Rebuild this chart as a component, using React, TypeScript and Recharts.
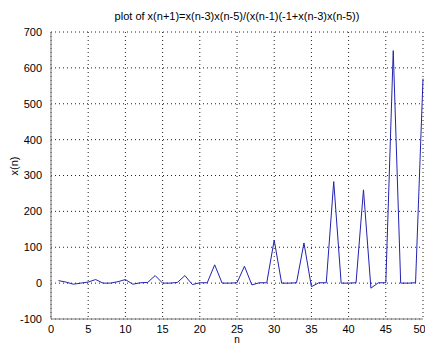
import { LineChart, Line, XAxis, YAxis, CartesianGrid } from 'recharts';

const nValues = Array.from({ length: 50 }, (_, i) => i + 1);
const xValues = [
  7, 3, -3, 0, 3, 10, 0, 0, 4, 10,
  -3, 1, 2, 21, 0, 0, 2, 21, -4, 1,
  1, 51, 0, 0, 1, 47, -5, 1, 1, 120,
  0, 0, 1, 112, -10, 1, 1, 283, 0, 0,
  1, 260, -14, 1, 1, 648, 0, 0, 1, 570,
];
const xTicks = [0, 5, 10, 15, 20, 25, 30, 35, 40, 45, 50];
const yTicks = [-100, 0, 100, 200, 300, 400, 500, 600, 700];

const data = nValues.map((n, i) => ({ n, x: xValues[i] }));

const tickStyle = { fill: '#000', fontSize: 11, fontFamily: 'Liberation Sans, Arial, sans-serif' };
const axisColor = '#777';

export default function App() {
  return (
    <div style={{ position: 'absolute', left: 0, top: 0, width: 425, height: 345, background: '#fff', overflow: 'hidden' }}>
      <div
        style={{
          position: 'absolute', left: 51, width: 372, top: 10, textAlign: 'center',
          fontSize: 11, fontFamily: 'Liberation Sans, Arial, sans-serif', color: '#000',
        }}
      >
        plot of x(n+1)=x(n-3)x(n-5)/(x(n-1)(-1+x(n-3)x(n-5))
      </div>
      <LineChart width={425} height={345} data={data} margin={{ top: 32, right: 2, bottom: 0, left: 0 }}>
        <CartesianGrid stroke="#222" strokeDasharray="1 3" />
        <XAxis
          dataKey="n" type="number" domain={[0, 50]} ticks={xTicks} height={26}
          tick={tickStyle} tickLine={false} tickMargin={0} stroke={axisColor}
          label={{ value: 'n', position: 'insideBottom', offset: 2, style: { ...tickStyle, fontSize: 10 } }}
        />
        <XAxis xAxisId="top" orientation="top" dataKey="n" type="number" domain={[0, 50]} ticks={xTicks}
          height={0} tick={false} stroke={axisColor} />
        <YAxis
          type="number" domain={[-100, 700]} ticks={yTicks} width={51} interval={0}
          tick={tickStyle} tickLine={false} tickMargin={3} stroke={axisColor}
          label={{ value: 'x(n)', angle: -90, position: 'insideLeft', offset: 14, style: tickStyle }}
        />
        <YAxis yAxisId="right" orientation="right" type="number" domain={[-100, 700]} ticks={yTicks}
          width={0} tick={false} stroke={axisColor} />
        <Line dataKey="x" stroke="#2222b0" strokeWidth={1} dot={false} isAnimationActive={false} />
      </LineChart>
    </div>
  );
}
